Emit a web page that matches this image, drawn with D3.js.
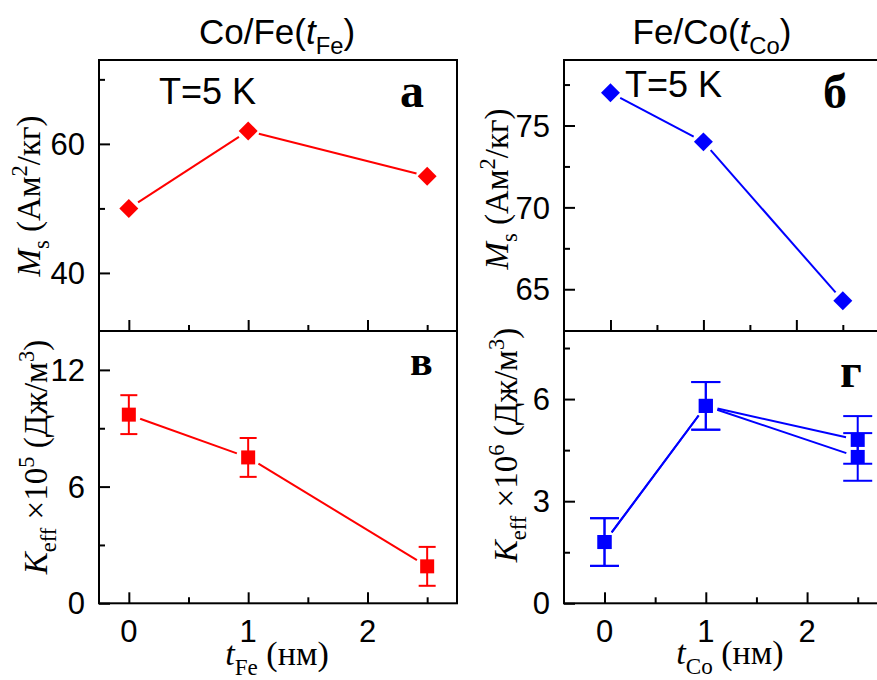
<!DOCTYPE html>
<html>
<head>
<meta charset="utf-8">
<script src="https://cdn.jsdelivr.net/npm/d3@7"></script>
<style>
  body { margin: 0; background: #fff; }
  svg { display: block; }
</style>
</head>
<body>
<div id="chart"></div>
<script>
// ---- data ----
var tFe      = [0, 1, 2.5];
var msFe     = [50, 62, 55];
var keffFe   = [9.7, 7.5, 1.9];
var keffFeEr = [1.0, 1.0, 1.0];

var tCo      = [0, 1, 2.5];
var msCo     = [77, 74, 64.3];
var keffCoA  = [1.8, 5.8, 4.8];
var keffCoB  = [1.8, 5.8, 4.3];
var keffCoEr = [0.7, 0.7, 0.7];

var xTicks      = [0, 1, 2];
var xMinor      = [0.5, 1.5, 2.5];
var msFeTicks   = [40, 60],      msFeMinor   = [50, 70];
var keffFeTicks = [0, 6, 12],    keffFeMinor = [3, 9];
var msCoTicks   = [65, 70, 75],  msCoMinor   = [67.5, 72.5, 77.5];
var keffCoTicks = [0, 3, 6],     keffCoMinor = [1.5, 4.5, 7.5];

var width = 877, height = 680;
var SANS  = "'Liberation Sans', Arial, sans-serif";
var SERIF = "'Liberation Serif', 'Times New Roman', serif";
var RED = "#ff0000", BLUE = "#0000ff";

var svg = d3.select("#chart").append("svg")
  .attr("width", width)
  .attr("height", height);

var yTop = 60, yMid = 331, yBot = 603.3;

// panels: x range in px, domains
var panels = [
  { x0: 99,  x1: 457, y0: yTop, y1: yMid, xd: [-0.25, 2.75], yd: [31, 73],    yt: msFeTicks,   ym: msFeMinor,   xlab: false },
  { x0: 99,  x1: 457, y0: yMid, y1: yBot, xd: [-0.25, 2.75], yd: [0, 14],     yt: keffFeTicks, ym: keffFeMinor, xlab: true },
  { x0: 564, x1: 880, y0: yTop, y1: yMid, xd: [-0.5, 2.9],   yd: [62.45, 79], yt: msCoTicks,   ym: msCoMinor,   xlab: false },
  { x0: 564, x1: 880, y0: yMid, y1: yBot, xd: [-0.4, 2.72],  yd: [0, 8],      yt: keffCoTicks, ym: keffCoMinor, xlab: true }
];

panels.forEach(function(p) {
  p.x = d3.scaleLinear().domain(p.xd).range([p.x0, p.x1]);
  p.y = d3.scaleLinear().domain(p.yd).range([p.y1, p.y0]);
});

// frames + ticks
panels.forEach(function(p) {
  var g = svg.append("g");
  g.append("rect")
    .attr("x", p.x0).attr("y", p.y0)
    .attr("width", p.x1 - p.x0).attr("height", p.y1 - p.y0)
    .attr("fill", "none").attr("stroke", "#000").attr("stroke-width", 2);

  // x ticks, inward on bottom edge
  var xa = d3.axisTop(p.x).tickValues(xTicks).tickSize(11).tickFormat("");
  g.append("g").attr("transform", "translate(0," + p.y1 + ")").call(xa);
  var xm = d3.axisTop(p.x).tickValues(xMinor).tickSize(6).tickFormat("");
  g.append("g").attr("transform", "translate(0," + p.y1 + ")").call(xm);

  // y ticks, inward on left edge
  var ya = d3.axisRight(p.y).tickValues(p.yt).tickSize(11).tickFormat("");
  g.append("g").attr("transform", "translate(" + p.x0 + ",0)").call(ya);
  var ym = d3.axisRight(p.y).tickValues(p.ym).tickSize(6).tickFormat("");
  g.append("g").attr("transform", "translate(" + p.x0 + ",0)").call(ym);

  g.selectAll(".domain").remove();
  g.selectAll(".tick line").attr("stroke", "#000").attr("stroke-width", 2);

  // y tick labels
  g.selectAll(".ylab")
    .data(p.yt).enter().append("text")
    .attr("x", p.x0 - 14)
    .attr("y", function(d) { return p.y(d); })
    .attr("dy", "0.36em")
    .attr("text-anchor", "end")
    .style("font-family", SANS).style("font-size", "31px")
    .text(function(d) { return d; });

  if (p.xlab) {
    g.selectAll(".xlab")
      .data(xTicks).enter().append("text")
      .attr("x", function(d) { return p.x(d); })
      .attr("y", p.y1 + 39)
      .attr("text-anchor", "middle")
      .style("font-family", SANS).style("font-size", "31px")
      .text(function(d) { return d; });
  }
});

// line segments with small gaps at the symbols (Origin style)
function gappedLine(p, xs, ys, gap, color) {
  var pts = xs.map(function(v, i) { return [p.x(v), p.y(ys[i])]; });
  for (var i = 0; i < pts.length - 1; i++) {
    var a = pts[i], b = pts[i + 1];
    var dx = b[0] - a[0], dy = b[1] - a[1];
    var len = Math.sqrt(dx * dx + dy * dy);
    var ux = dx / len, uy = dy / len;
    svg.append("line")
      .attr("x1", a[0] + ux * gap).attr("y1", a[1] + uy * gap)
      .attr("x2", b[0] - ux * gap).attr("y2", b[1] - uy * gap)
      .attr("stroke", color).attr("stroke-width", 2);
  }
}

function errorBars(p, xs, ys, er, cap, color) {
  var g = svg.append("g").attr("stroke", color).attr("stroke-width", 2);
  xs.forEach(function(v, i) {
    var cx = p.x(v), hi = p.y(ys[i] + er[i]), lo = p.y(ys[i] - er[i]);
    g.append("line").attr("x1", cx).attr("x2", cx).attr("y1", hi).attr("y2", lo);
    g.append("line").attr("x1", cx - cap / 2).attr("x2", cx + cap / 2).attr("y1", hi).attr("y2", hi);
    g.append("line").attr("x1", cx - cap / 2).attr("x2", cx + cap / 2).attr("y1", lo).attr("y2", lo);
  });
}

function diamonds(p, xs, ys, color) {
  svg.selectAll(null)
    .data(xs).enter().append("path")
    .attr("d", d3.symbol().type(d3.symbolSquare).size(180))
    .attr("transform", function(d, i) {
      return "translate(" + p.x(d) + "," + p.y(ys[i]) + ") rotate(45)";
    })
    .attr("fill", color);
}

function squares(p, xs, ys, color) {
  svg.selectAll(null)
    .data(xs).enter().append("rect")
    .attr("x", function(d) { return p.x(d) - 7; })
    .attr("y", function(d, i) { return p.y(ys[i]) - 7; })
    .attr("width", 14).attr("height", 14)
    .attr("fill", color);
}

// а
gappedLine(panels[0], tFe, msFe, 11, RED);
diamonds(panels[0], tFe, msFe, RED);
// в
errorBars(panels[1], tFe, keffFe, keffFeEr, 17, RED);
gappedLine(panels[1], tFe, keffFe, 12, RED);
squares(panels[1], tFe, keffFe, RED);
// б
gappedLine(panels[2], tCo, msCo, 11, BLUE);
diamonds(panels[2], tCo, msCo, BLUE);
// г
errorBars(panels[3], tCo, keffCoA, keffCoEr, 29, BLUE);
errorBars(panels[3], tCo, keffCoB, keffCoEr, 29, BLUE);
gappedLine(panels[3], tCo, keffCoA, 12, BLUE);
gappedLine(panels[3], tCo, keffCoB, 12, BLUE);
squares(panels[3], tCo, keffCoA, BLUE);
squares(panels[3], tCo, keffCoB, BLUE);

// rich text helper: parts = [text, style] with style "" | "i" | "sub" | "sup"
function rich(sel, parts, size) {
  var shift = 0;
  parts.forEach(function(pt) {
    var want = pt[1] === "sub" ? size * 0.28 : pt[1] === "sup" ? -size * 0.38 : 0;
    var ts = sel.append("tspan").text(pt[0]).attr("dy", want - shift);
    shift = want;
    if (pt[1] === "i") ts.style("font-style", "italic");
    if (pt[1] === "sub" || pt[1] === "sup") ts.style("font-size", (size * 0.68) + "px");
  });
}

function label(x, y, rot, font, size, parts) {
  var t = svg.append("text")
    .attr("transform", "translate(" + x + "," + y + ")" + (rot ? " rotate(-90)" : ""))
    .attr("text-anchor", "middle")
    .style("font-family", font).style("font-size", size + "px");
  rich(t, parts, size);
  return t;
}

// titles
label(277, 44, false, SANS, 35, [["Co/Fe(", ""], ["t", "i"], ["Fe", "sub"], [")", ""]]);
label(712, 44, false, SANS, 35, [["Fe/Co(", ""], ["t", "i"], ["Co", "sub"], [")", ""]]);

// y axis titles
label(40, 196, true, SERIF, 33, [["M", "i"], ["s", "sub"], [" (Ам", ""], ["2", "sup"], ["/кг)", ""]]);
label(47, 457, true, SERIF, 33, [["K", "i"], ["eff", "sub"], [" ×10", ""], ["5", "sup"], [" (Дж/м", ""], ["3", "sup"], [")", ""]]);
label(508, 189, true, SERIF, 33, [["M", "i"], ["s", "sub"], [" (Ам", ""], ["2", "sup"], ["/кг)", ""]]);
label(517, 445, true, SERIF, 33, [["K", "i"], ["eff", "sub"], [" ×10", ""], ["6", "sup"], [" (Дж/м", ""], ["3", "sup"], [")", ""]]);

// x axis titles
label(277, 665, false, SERIF, 34, [["t", "i"], ["Fe", "sub"], [" (нм)", ""]]);
label(730, 664, false, SERIF, 34, [["t", "i"], ["Co", "sub"], [" (нм)", ""]]);

// annotations
svg.append("text").attr("x", 159).attr("y", 104)
  .style("font-family", SANS).style("font-size", "36px").text("T=5 K");
svg.append("text").attr("x", 625).attr("y", 97)
  .style("font-family", SANS).style("font-size", "36px").text("T=5 K");

var letters = [["а", 400, 107, 48], ["б", 823, 108, 48], ["в", 410, 375, 42], ["г", 840, 387, 48]];
svg.selectAll(".letter")
  .data(letters).enter().append("text")
  .attr("x", function(d) { return d[1]; })
  .attr("y", function(d) { return d[2]; })
  .style("font-family", SERIF).style("font-weight", "bold")
  .style("font-size", function(d) { return d[3] + "px"; })
  .text(function(d) { return d[0]; });
</script>
</body>
</html>
